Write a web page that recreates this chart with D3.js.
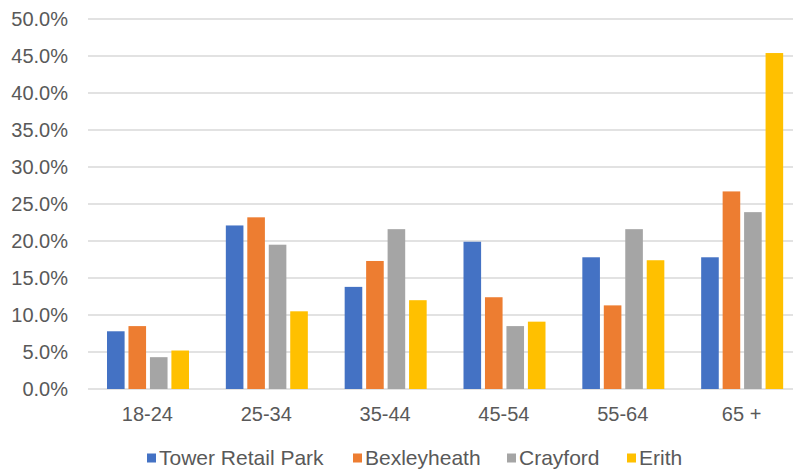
<!DOCTYPE html>
<html>
<head>
<meta charset="utf-8">
<script src="https://cdn.jsdelivr.net/npm/d3@7"></script>
<style>
  body { margin: 0; background: #fff; }
  svg text { font-family: "Liberation Sans", Arial, sans-serif; fill: #595959; }
</style>
</head>
<body>
<div id="chart"></div>
<script>
// age bands and the four locations
let categories = ["18-24", "25-34", "35-44", "45-54", "55-64", "65 +"];
let seriesNames = ["Tower Retail Park", "Bexleyheath", "Crayford", "Erith"];
let colors = ["#4472C4", "#ED7D31", "#A5A5A5", "#FFC000"];

// percentages
let towerRetailPark = [7.8, 22.1, 13.8, 19.9, 17.8, 17.8];
let bexleyheath     = [8.5, 23.2, 17.3, 12.4, 11.3, 26.7];
let crayford        = [4.3, 19.5, 21.6, 8.5, 21.6, 23.9];
let erith           = [5.2, 10.5, 12.0, 9.1, 17.4, 45.4];

let yTicks = [0, 5, 10, 15, 20, 25, 30, 35, 40, 45, 50];

let seriesValues = [towerRetailPark, bexleyheath, crayford, erith];

let width = 793, height = 470;
let plot = {left: 88, right: 801, top: 19, bottom: 389};

let svg = d3.select("#chart").append("svg")
    .attr("width", width)
    .attr("height", height);

let x = d3.scaleBand()
    .domain(categories)
    .range([plot.left, plot.right]);

let xSub = d3.scaleBand()
    .domain(seriesNames)
    .range([19, 101])
    .paddingInner(0.18);

let y = d3.scaleLinear()
    .domain([0, 50])
    .range([plot.bottom, plot.top]);

// gridlines
svg.append("g")
    .selectAll("line")
    .data(yTicks)
    .enter().append("line")
    .attr("x1", plot.left)
    .attr("x2", plot.right)
    .attr("y1", function(d) { return y(d); })
    .attr("y2", function(d) { return y(d); })
    .attr("stroke", "#D9D9D9")
    .attr("stroke-width", 1.5);

// y axis labels
let yAxis = svg.append("g")
    .attr("transform", "translate(" + (plot.left - 20) + ",0)")
    .call(d3.axisLeft(y).tickValues(yTicks).tickSize(0).tickPadding(0)
      .tickFormat(function(d) { return d.toFixed(1) + "%"; }));
yAxis.select(".domain").remove();
yAxis.selectAll("text")
    .attr("font-size", "20px")
    .attr("font-family", null)
    .attr("fill", "#595959");

// bars
let groups = svg.append("g")
    .selectAll("g")
    .data(categories)
    .enter().append("g")
    .attr("transform", function(d) { return "translate(" + x(d) + ",0)"; });

groups.selectAll("rect")
    .data(function(d, i) {
      return seriesNames.map(function(s, j) { return { name: s, value: seriesValues[j][i], idx: j }; });
    })
    .enter().append("rect")
    .attr("x", function(d) { return xSub(d.name); })
    .attr("width", xSub.bandwidth())
    .attr("y", function(d) { return y(d.value); })
    .attr("height", function(d) { return y(0) - y(d.value); })
    .attr("fill", function(d) { return colors[d.idx]; });

// x axis labels
let xAxis = svg.append("g")
    .attr("transform", "translate(0," + (plot.bottom + 18) + ")")
    .call(d3.axisBottom(x).tickSize(0).tickPadding(0));
xAxis.select(".domain").remove();
xAxis.selectAll("text")
    .attr("font-size", "20px")
    .attr("font-family", null)
    .attr("fill", "#595959");

// legend
let legendX = [147, 353, 507, 627];
let legend = svg.append("g")
    .selectAll("g")
    .data(seriesNames)
    .enter().append("g")
    .attr("transform", function(d, i) { return "translate(" + legendX[i] + ",458)"; });

legend.append("rect")
    .attr("x", 0)
    .attr("y", -4.5)
    .attr("width", 9)
    .attr("height", 9)
    .attr("fill", function(d, i) { return colors[i]; });

legend.append("text")
    .attr("x", 12)
    .attr("dy", "0.35em")
    .attr("font-size", "21px")
    .text(function(d) { return d; });
</script>
</body>
</html>
